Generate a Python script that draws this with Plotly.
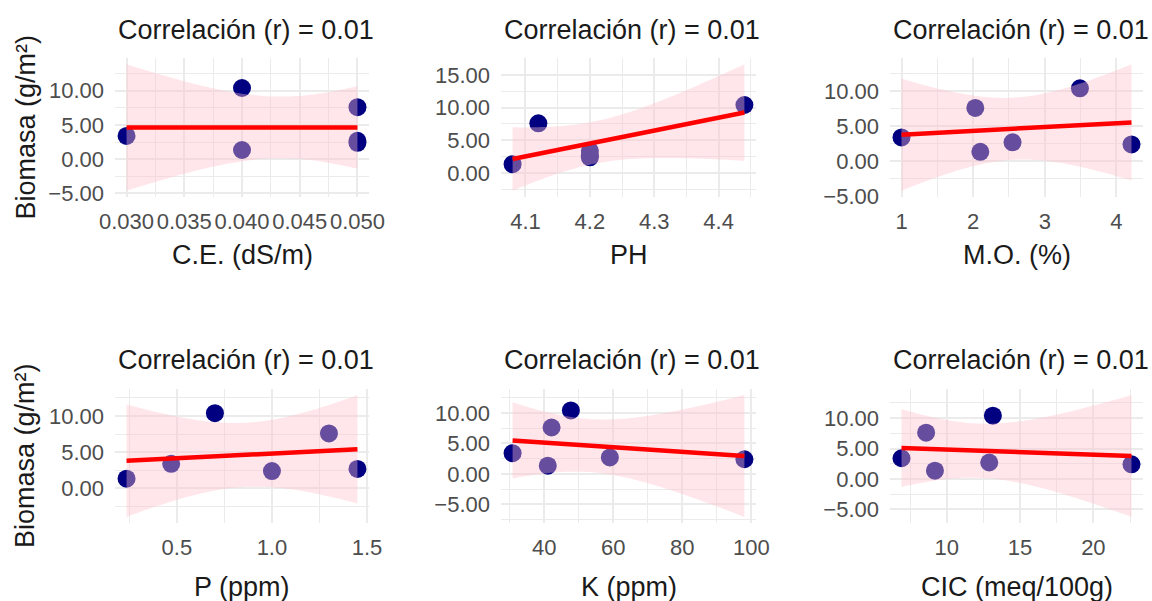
import numpy as np
import plotly.graph_objects as go

# ---- data ----
biomasa = [3.4, 10.4, 7.6, 1.35, 2.7, 2.4]
ce = [0.03, 0.04, 0.05, 0.04, 0.05, 0.05]
ph = [4.20, 4.44, 4.12, 4.08, 4.20, 4.20]
mo = [1.00, 3.49, 2.03, 2.10, 2.55, 4.21]
p_ppm = [0.47, 0.70, 1.30, 0.235, 1.45, 1.00]
k_ppm = [30.8, 47.7, 42.1, 41.0, 59.0, 98.0]
cic = [6.92, 13.15, 8.60, 9.20, 12.90, 22.60]

x_labels = ["C.E. (dS/m)", "PH", "M.O. (%)", "P (ppm)", "K (ppm)", "CIC (meq/100g)"]
x_dticks = [0.005, 0.1, 1, 0.5, 20, 5]
x_formats = [".3f", ".1f", "d", ".1f", "d", "d"]
title_text = "Correlación (r) = 0.01"
y_label = "Biomasa (g/m²)"
T975_DF4 = 2.7764  # t quantile for 95% CI, n-2 = 4 df

W, H = 1152, 601
col_px = [(115, 369), (501, 756), (890, 1143)]
row_px = [(58, 197), (389, 523)]
FONT = "Liberation Sans, Arial, sans-serif"

fig = go.Figure()
layout = dict(
    width=W, height=H, margin=dict(l=0, r=0, t=0, b=0, pad=0, autoexpand=False),
    paper_bgcolor="white", plot_bgcolor="white", showlegend=False,
    font=dict(family=FONT),
)
annotations = []

xs_all = [ce, ph, mo, p_ppm, k_ppm, cic]
y = np.array(biomasa, dtype=float)

for i, xs in enumerate(xs_all):
    r, c = divmod(i, 3)
    ax = i + 1
    xn = "x" if ax == 1 else f"x{ax}"
    yn = "y" if ax == 1 else f"y{ax}"
    x = np.array(xs, dtype=float)
    slope, intercept = np.polyfit(x, y, 1)
    xg = np.linspace(x.min(), x.max(), 80)
    yhat = intercept + slope * xg
    n = len(x)
    resid = y - (intercept + slope * x)
    s = np.sqrt((resid ** 2).sum() / (n - 2))
    se = s * np.sqrt(1 / n + (xg - x.mean()) ** 2 / ((x - x.mean()) ** 2).sum())
    lo, hi = yhat - T975_DF4 * se, yhat + T975_DF4 * se

    fig.add_trace(go.Scatter(x=x, y=y, mode="markers", xaxis=xn, yaxis=yn,
                             marker=dict(color="#000080", size=18, line=dict(width=0)),
                             cliponaxis=False))
    fig.add_trace(go.Scatter(x=np.concatenate([xg, xg[::-1]]),
                             y=np.concatenate([hi, lo[::-1]]),
                             fill="toself", fillcolor="rgba(255,192,203,0.4)",
                             mode="none", xaxis=xn, yaxis=yn, hoverinfo="skip"))
    fig.add_trace(go.Scatter(x=xg, y=yhat, mode="lines", xaxis=xn, yaxis=yn,
                             line=dict(color="red", width=4.5)))

    xmin, xmax = x.min(), x.max()
    xpad = 0.05 * (xmax - xmin)
    ymin, ymax = min(y.min(), lo.min()), max(y.max(), hi.max())
    ypad = 0.05 * (ymax - ymin)

    x0, x1 = col_px[c]
    y0, y1 = row_px[r]
    xdom = [x0 / W, x1 / W]
    ydom = [1 - y1 / H, 1 - y0 / H]
    dt = x_dticks[i]
    common = dict(showline=False, zeroline=False, ticks="", automargin=False,
                  gridcolor="#EBEBEB", gridwidth=1.6,
                  tickfont=dict(size=22, color="#4D4D4D", family=FONT),
                  tickangle=0)
    layout[f"xaxis{'' if ax == 1 else ax}"] = dict(
        common, domain=xdom, anchor=yn, range=[xmin - xpad, xmax + xpad],
        tick0=0, dtick=dt, tickformat=x_formats[i], ticklabelstandoff=9,
        minor=dict(showgrid=True, tick0=0, dtick=dt / 2, gridcolor="#EBEBEB", gridwidth=0.9),
    )
    layout[f"yaxis{'' if ax == 1 else ax}"] = dict(
        common, domain=ydom, anchor=xn, range=[ymin - ypad, ymax + ypad],
        tick0=0, dtick=5, tickformat=".2f", ticklabelstandoff=10,
        minor=dict(showgrid=True, tick0=0, dtick=2.5, gridcolor="#EBEBEB", gridwidth=0.9),
    )

    title_y = 30 if r == 0 else 360
    annotations.append(dict(text=title_text, x=(x0 + 1) / W, y=1 - title_y / H, xref="paper", yref="paper",
                            xanchor="left", yanchor="middle", showarrow=False,
                            font=dict(size=27, color="#1A1A1A", family=FONT)))
    xt_y = 255 if r == 0 else 587
    annotations.append(dict(text=x_labels[i], x=(x0 + x1) / 2 / W, y=1 - xt_y / H,
                            xref="paper", yref="paper", xanchor="center", yanchor="middle",
                            showarrow=False, font=dict(size=27, color="#1A1A1A", family=FONT)))
    if c == 0:
        annotations.append(dict(text=y_label, x=25 / W, y=1 - (y0 + y1) / 2 / H,
                                xref="paper", yref="paper", xanchor="center", yanchor="middle",
                                textangle=-90, showarrow=False,
                                font=dict(size=27, color="#1A1A1A", family=FONT)))

layout["annotations"] = annotations
fig.update_layout(**layout)
fig.write_html("out.html", config={"displayModeBar": False},
               post_script="document.body.style.margin='0';document.body.style.overflow='hidden';")
